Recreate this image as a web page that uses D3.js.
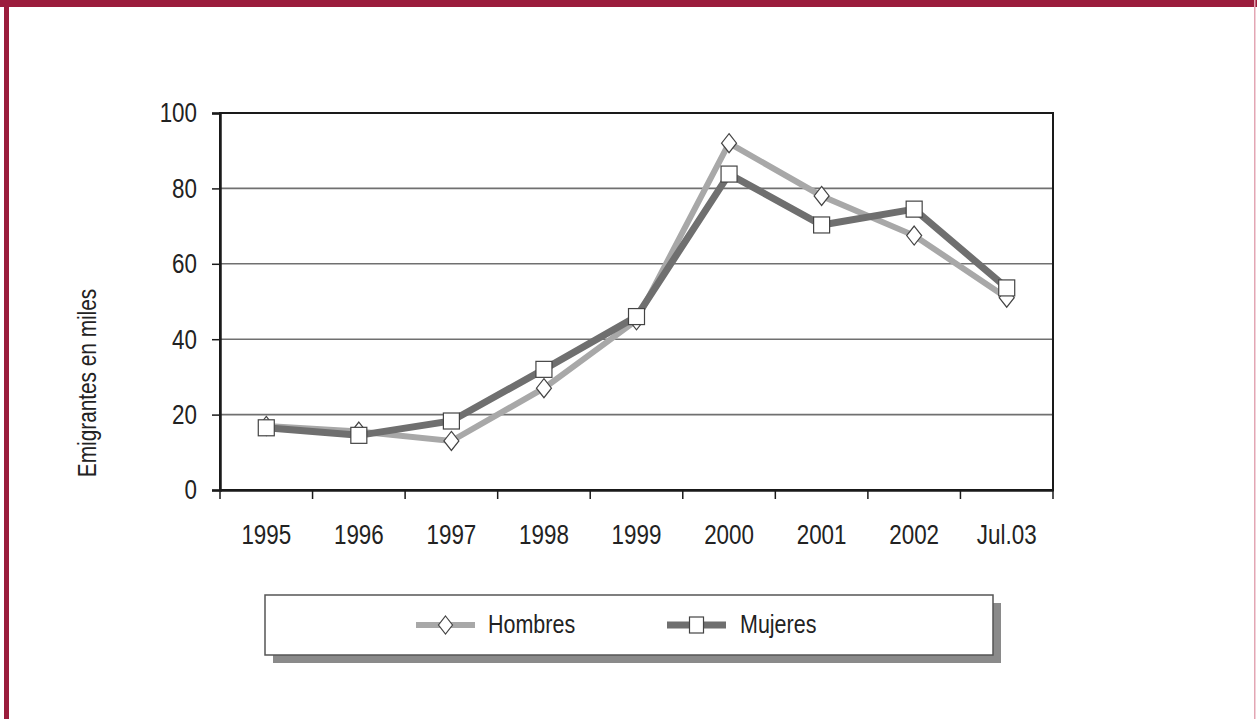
<!DOCTYPE html>
<html>
<head>
<meta charset="utf-8">
<script src="https://cdn.jsdelivr.net/npm/d3@7"></script>
<style>
  html, body { margin: 0; padding: 0; background: #fff; }
  svg { display: block; }
  text { font-family: "Liberation Sans", Arial, sans-serif; fill: #222; }
</style>
</head>
<body>
<svg id="chart" width="1257" height="719"></svg>
<script>
// Emigrantes por sexo (miles)
const categories = ["1995", "1996", "1997", "1998", "1999", "2000", "2001", "2002", "Jul.03"];
const hombres = [17, 15.5, 13, 27, 45, 92, 78, 67.5, 51];
const mujeres = [16.5, 14.5, 18.3, 32, 46, 83.8, 70.3, 74.5, 53.6];
const yTicks = [0, 20, 40, 60, 80, 100];
const seriesNames = ["Hombres", "Mujeres"];

const W = 1257, H = 719;
const NARROW = 0.8; // horizontal squeeze for a condensed look
const svg = d3.select("#chart");

// page frame
svg.append("rect").attr("x", 0).attr("y", 0).attr("width", W).attr("height", H).attr("fill", "#fff");
svg.append("rect").attr("x", 0).attr("y", 0).attr("width", W).attr("height", 7).attr("fill", "#9b1d3c");
svg.append("rect").attr("x", 4).attr("y", 0).attr("width", 5).attr("height", H).attr("fill", "#9b1d3c");
svg.append("rect").attr("x", 1254).attr("y", 0).attr("width", 1.5).attr("height", H).attr("fill", "#e3a6b4");

const plot = { left: 220, right: 1053, top: 113, bottom: 490 };

const x = d3.scaleBand().domain(categories).range([plot.left, plot.right]);
const y = d3.scaleLinear().domain([0, 100]).range([plot.bottom, plot.top]);

// gridlines
svg.append("g")
  .selectAll("line")
  .data(yTicks.filter(t => t > 0 && t < 100))
  .join("line")
  .attr("x1", plot.left).attr("x2", plot.right)
  .attr("y1", d => y(d)).attr("y2", d => y(d))
  .attr("stroke", "#707070").attr("stroke-width", 1.6);

// plot frame
svg.append("rect")
  .attr("x", plot.left).attr("y", plot.top)
  .attr("width", plot.right - plot.left).attr("height", plot.bottom - plot.top)
  .attr("fill", "none").attr("stroke", "#1a1a1a").attr("stroke-width", 2);

// y axis
const yAxis = svg.append("g")
  .attr("transform", `translate(${plot.left},0)`)
  .call(d3.axisLeft(y).tickValues(yTicks).tickSize(8));
yAxis.select(".domain").attr("stroke", "#1a1a1a").attr("stroke-width", 2.5);
yAxis.selectAll(".tick line").attr("stroke", "#1a1a1a").attr("stroke-width", 1.5);
yAxis.selectAll(".tick text")
  .attr("font-size", 28).attr("fill", "#222")
  .attr("x", -23 / NARROW)
  .attr("transform", `scale(${NARROW},1)`);

// x axis: ticks between categories
const xAxis = svg.append("g")
  .attr("transform", `translate(0,${plot.bottom})`)
  .call(d3.axisBottom(x).tickSize(0).tickPadding(34));
xAxis.select(".domain").attr("stroke", "#1a1a1a").attr("stroke-width", 2.5);
xAxis.selectAll(".tick text")
  .attr("font-size", 28).attr("fill", "#222")
  .attr("transform", `scale(${NARROW},1)`);
const boundaries = categories.map(c => x(c)).concat([x.range()[1]]);
xAxis.append("g").selectAll("line")
  .data(boundaries)
  .join("line")
  .attr("x1", d => d).attr("x2", d => d)
  .attr("y1", 0).attr("y2", 9)
  .attr("stroke", "#1a1a1a").attr("stroke-width", 1.5);

// y axis title
svg.append("text")
  .attr("transform", `translate(96,383) rotate(-90) scale(${NARROW},1)`)
  .attr("text-anchor", "middle")
  .attr("font-size", 26)
  .text("Emigrantes en miles");

const cx = c => x(c) + x.bandwidth() / 2;
const line = d3.line().x((d, i) => cx(categories[i])).y(d => y(d));

const colors = { Hombres: "#a8a8a8", Mujeres: "#6f6f6f" };

// lines
svg.append("path").datum(hombres).attr("d", line)
  .attr("fill", "none").attr("stroke", colors.Hombres).attr("stroke-width", 6).attr("stroke-linejoin", "miter");
svg.append("path").datum(mujeres).attr("d", line)
  .attr("fill", "none").attr("stroke", colors.Mujeres).attr("stroke-width", 7).attr("stroke-linejoin", "miter");

// markers
const diamondPath = (w, h) => `M0,${-h / 2}L${w / 2},0L0,${h / 2}L${-w / 2},0Z`;
svg.append("g").selectAll("path")
  .data(hombres)
  .join("path")
  .attr("transform", (d, i) => `translate(${cx(categories[i])},${y(d)})`)
  .attr("d", diamondPath(15, 19))
  .attr("fill", "#fff").attr("stroke", "#444").attr("stroke-width", 1.2);
svg.append("g").selectAll("rect")
  .data(mujeres)
  .join("rect")
  .attr("x", (d, i) => cx(categories[i]) - 8)
  .attr("y", d => y(d) - 8)
  .attr("width", 16).attr("height", 16)
  .attr("fill", "#fff").attr("stroke", "#444").attr("stroke-width", 1.2);

// legend
const lg = svg.append("g");
lg.append("rect").attr("x", 273).attr("y", 603).attr("width", 728).attr("height", 60).attr("fill", "#8a8a8a");
lg.append("rect").attr("x", 265).attr("y", 595).attr("width", 728).attr("height", 60)
  .attr("fill", "#fff").attr("stroke", "#555").attr("stroke-width", 1.5);

const legendItems = [
  { name: seriesNames[0], x0: 416, tx: 488, color: colors.Hombres, sw: 6, mark: "diamond" },
  { name: seriesNames[1], x0: 667, tx: 740, color: colors.Mujeres, sw: 7, mark: "square" }
];
const ly = 625;
legendItems.forEach(it => {
  lg.append("line").attr("x1", it.x0).attr("x2", it.x0 + 59).attr("y1", ly).attr("y2", ly)
    .attr("stroke", it.color).attr("stroke-width", it.sw);
  const mx = it.x0 + 29.5;
  if (it.mark === "diamond") {
    lg.append("path").attr("transform", `translate(${mx},${ly})`).attr("d", diamondPath(14, 18))
      .attr("fill", "#fff").attr("stroke", "#444").attr("stroke-width", 1.2);
  } else {
    lg.append("rect").attr("x", mx - 7).attr("y", ly - 8).attr("width", 14).attr("height", 16)
      .attr("fill", "#fff").attr("stroke", "#444").attr("stroke-width", 1.2);
  }
  lg.append("text")
    .attr("transform", `translate(${it.tx},${ly + 8}) scale(0.86,1)`)
    .attr("font-size", 25).text(it.name);
});
</script>
</body>
</html>
